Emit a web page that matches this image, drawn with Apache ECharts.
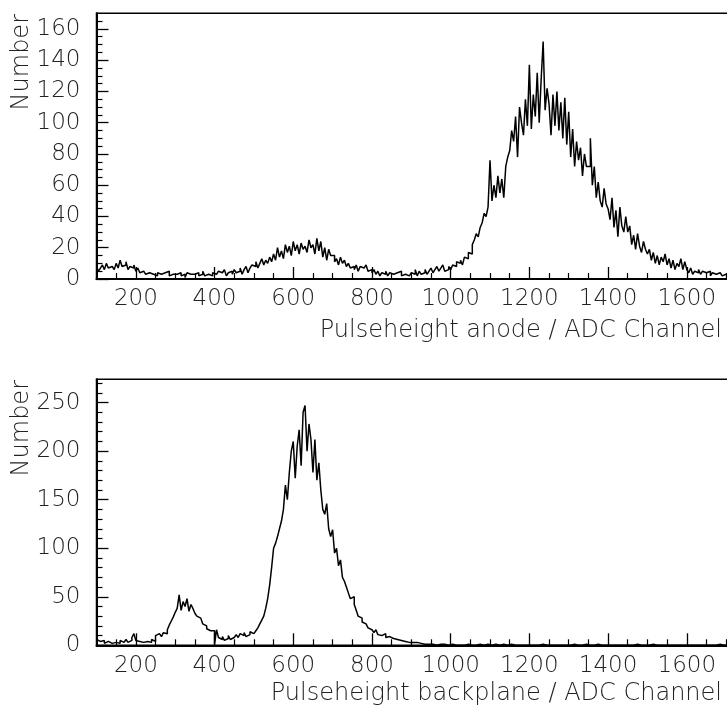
<!DOCTYPE html>
<html><head><meta charset="utf-8">
<script src="https://cdn.jsdelivr.net/npm/echarts@6/dist/echarts.min.js"></script>
<style>html,body{margin:0;padding:0;background:#fff}#c{width:727px;height:708px}</style>
</head><body><div id="c"></div>
<script>
// ---- data (bins of 5 ADC channels starting at channel 100) ----
const binStart = 100;
const binWidth = 5;
const anodeCounts = [
  8,5,7,9,6,10,7,8,9,6,
  10,7,12,8,9,11,6,8,7,9,
  5,7,4,5,6,3,4,5,3,4,
  2,4,3,2,4,3,5,2,3,2,
  3,2,4,2,3,1,4,3,2,3,
  3,4,2,3,5,2,3,4,2,4,
  3,2,5,4,3,6,2,4,5,3,
  6,4,5,7,3,6,8,4,7,9,
  8,11,7,10,13,9,12,10,14,11,
  16,12,20,14,18,13,22,17,21,15,
  24,18,22,16,23,19,21,17,25,20,
  22,16,26,18,24,14,20,12,19,15,
  15,11,13,9,14,10,12,8,10,7,
  8,6,9,5,8,7,6,9,5,6,
  4,6,3,5,2,4,3,5,2,4,
  3,2,4,3,5,2,3,4,2,3,
  4,3,6,2,5,3,4,6,3,5,
  7,4,6,8,5,7,9,5,6,8,
  6,9,8,11,10,12,9,14,13,17,
  16,22,25,29,27,33,36,42,40,46,
  76,50,60,52,66,55,64,52,72,78,
  82,95,88,104,78,110,100,92,115,98,
  137,96,118,104,132,100,128,152,108,122,
  112,92,118,98,120,95,113,90,116,86,
  107,78,96,72,88,76,84,66,80,72,
  72,90,60,72,52,62,50,46,58,48,
  45,38,52,33,44,27,46,34,30,40,
  30,34,22,28,19,29,21,17,24,19,
  16,19,12,17,10,15,9,14,11,16,
  9,13,7,12,6,10,8,13,6,11,
  6,4,7,3,5,4,6,3,5,4,
  3,5,2,4,3,2,4,3,2,3,
  3,1,2,4,1,2,3,1,2,2
];
const backplaneCounts = [
  6,4,3,5,2,4,3,2,4,3,
  4,2,5,3,4,6,3,5,8,12,
  5,4,6,3,5,4,5,3,6,4,
  10,12,11,9,13,12,16,21,25,29,
  34,38,52,36,45,40,48,35,42,38,
  33,30,28,26,22,20,17,15,16,15,
  1,16,8,6,9,5,7,10,6,8,
  9,11,8,12,10,13,9,11,14,12,
  13,15,18,22,26,30,38,48,62,80,
  100,105,112,120,128,140,165,150,178,200,
  210,172,205,222,185,240,247,200,228,212,
  178,212,170,188,160,140,135,146,120,112,
  119,95,100,82,88,70,66,60,54,48,
  50,42,36,30,28,24,22,20,18,16,
  15,13,16,11,10,9,12,8,9,7,
  7,5,6,4,5,3,4,5,3,2,
  3,2,3,1,2,2,1,2,1,1,
  1,2,0,1,1,0,1,1,0,1,
  1,0,0,1,0,1,0,0,1,0,
  0,1,0,0,1,0,0,0,1,0,
  0,0,1,0,0,0,1,0,0,0,
  1,0,0,0,0,1,0,0,0,0,
  0,1,0,0,0,0,1,0,0,0,
  0,0,0,1,0,0,0,0,0,1,
  0,0,1,0,0,0,0,0,1,0,
  0,0,0,0,1,0,0,0,0,0,
  0,1,0,0,0,0,0,1,0,0,
  0,0,0,0,1,0,0,0,0,0,
  0,0,1,0,0,0,0,0,0,0,
  0,0,0,0,0,1,0,0,0,0,
  0,0,0,1,0,0,0,0,0,0,
  0,0,0,0,0,0,1,0,0,0,
  0,0,0,0,0,0,0,0,0,0
];
const xTickLabels = [200,400,600,800,1000,1200,1400,1600];
const anodeYTicks = [0,20,40,60,80,100,120,140,160];
const backplaneYTicks = [0,50,100,150,200,250];
const xRange = [100, 1750];
const anodeYMax = 170;
const backplaneYMax = 274;
const anodeTitle = 'Pulseheight anode / ADC Channel';
const backplaneTitle = 'Pulseheight backplane / ADC Channel';
const yTitle = 'Number';

// ---- helpers ----
function steps(counts){
  const pts = counts.map((v,i)=>[binStart+i*binWidth, v]);
  pts.push([binStart+counts.length*binWidth, counts[counts.length-1]]);
  return pts;
}
function minors(lo, hi, step, major){
  const out=[];
  for(let v=lo; v<hi; v+=step){ if(v%major!==0 && v>lo) out.push(v); }
  return out;
}
const FONT = {fontFamily:'DejaVu Sans', fontSize:23, color:'#222', fontWeight:200};
const TITLE_FONT = '200 24px "DejaVu Sans"';
const grids = [
  {left:96.5, width:649.3, top:13.3, height:265.7, outerBoundsMode:'none', containLabel:false, show:true, borderColor:'#000', borderWidth:1.5},
  {left:96.5, width:649.3, top:379.3, height:266, outerBoundsMode:'none', containLabel:false, show:true, borderColor:'#000', borderWidth:1.5}
];
const plain = v => String(v);
function xMain(g){
  return {type:'value', gridIndex:g, min:xRange[0], max:xRange[1], position:'bottom',
    axisLine:{show:true, lineStyle:{color:'#000', width:2}},
    axisTick:{show:true, inside:true, length:12, customValues:xTickLabels, lineStyle:{color:'#000', width:1.3}},
    axisLabel:Object.assign({show:true, margin:9, customValues:xTickLabels, formatter:plain}, FONT),
    splitLine:{show:false}};
}
function xMinor(g){
  return {type:'value', gridIndex:g, min:xRange[0], max:xRange[1], position:'bottom', offset:0,
    axisLine:{show:false},
    axisTick:{show:true, inside:true, length:6, customValues:minors(xRange[0], xRange[1], 50, 200), lineStyle:{color:'#000', width:1.2}},
    axisLabel:{show:false}, splitLine:{show:false}};
}
function yMain(g, max, ticks){
  return {type:'value', gridIndex:g, min:0, max:max, position:'left',
    axisLine:{show:true, lineStyle:{color:'#000', width:2}},
    axisTick:{show:true, inside:true, length:12, customValues:ticks, lineStyle:{color:'#000', width:1.3}},
    axisLabel:Object.assign({show:true, margin:16, customValues:ticks, formatter:plain}, FONT),
    splitLine:{show:false}};
}
function yMinor(g, max, step, major){
  return {type:'value', gridIndex:g, min:0, max:max, position:'left', offset:0,
    axisLine:{show:false},
    axisTick:{show:true, inside:true, length:6, customValues:minors(0, max, step, major), lineStyle:{color:'#000', width:1.2}},
    axisLabel:{show:false}, splitLine:{show:false}};
}
const chart = echarts.init(document.getElementById('c'), null, {renderer:'canvas'});
chart.setOption({
  backgroundColor:'#fff',
  animation:false,
  grid:grids,
  xAxis:[xMain(0), xMain(1), xMinor(0), xMinor(1)],
  yAxis:[yMain(0, anodeYMax, anodeYTicks), yMain(1, backplaneYMax, backplaneYTicks),
         yMinor(0, anodeYMax, 5, 20), yMinor(1, backplaneYMax, 10, 50)],
  series:[
    {type:'line', name:'anode', xAxisIndex:0, yAxisIndex:0, step:'end', showSymbol:false,
     data:steps(anodeCounts), lineStyle:{color:'#000', width:1.5}},
    {type:'line', name:'backplane', xAxisIndex:1, yAxisIndex:1, step:'end', showSymbol:false,
     data:steps(backplaneCounts), lineStyle:{color:'#000', width:1.5}}
  ],
  graphic:[
    {type:'text', x:722, y:331, style:{text:anodeTitle, align:'right', verticalAlign:'middle', fill:'#222', font:TITLE_FONT}},
    {type:'text', x:722, y:694, style:{text:backplaneTitle, align:'right', verticalAlign:'middle', fill:'#222', font:TITLE_FONT}},
    {type:'text', x:22, y:14, rotation:Math.PI/2, style:{text:yTitle, align:'right', verticalAlign:'middle', fill:'#222', font:TITLE_FONT}},
    {type:'text', x:22, y:380, rotation:Math.PI/2, style:{text:yTitle, align:'right', verticalAlign:'middle', fill:'#222', font:TITLE_FONT}}
  ]
});
</script>
</body></html>
